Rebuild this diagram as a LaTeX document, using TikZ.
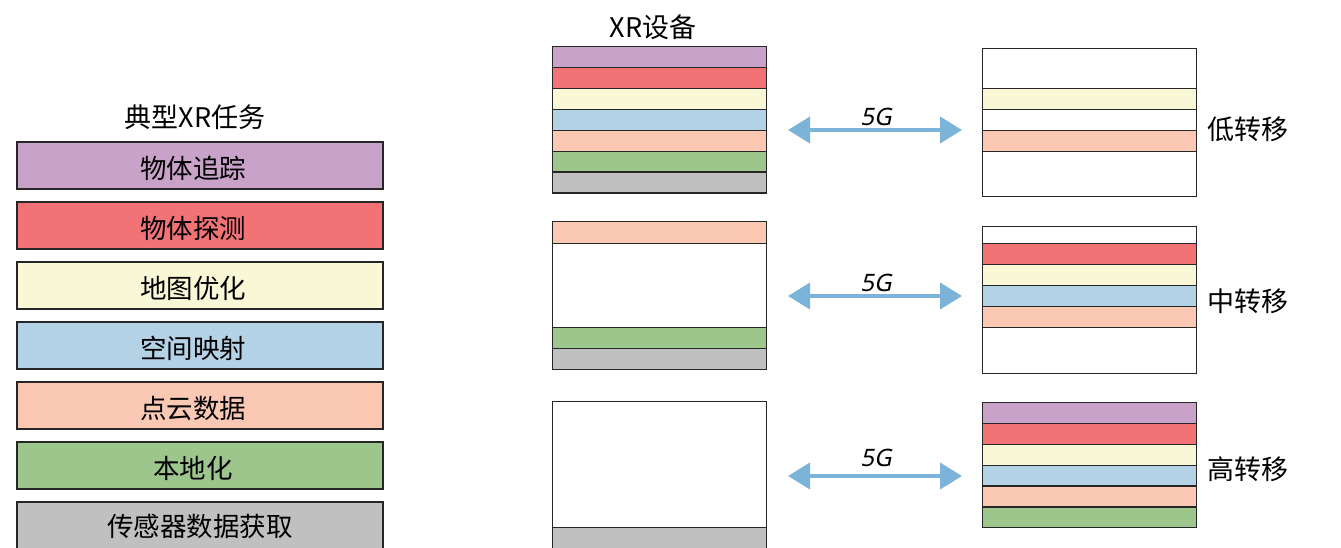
\documentclass[tikz,border=0pt]{standalone}
\usepackage{fontspec}
\setmainfont{Noto Sans CJK SC}
\newfontfamily\latinfont[FakeSlant=0.2]{Noto Sans}
\usetikzlibrary{arrows.meta}

\definecolor{cpurple}{HTML}{C8A2C9}
\definecolor{cred}{HTML}{F27375}
\definecolor{cyellow}{HTML}{F8F8D6}
\definecolor{cblue}{HTML}{B3D2E6}
\definecolor{cpeach}{HTML}{FBC9B3}
\definecolor{cgreen}{HTML}{9DC68C}
\definecolor{cgray}{HTML}{C0C0C1}
\definecolor{carrow}{HTML}{7BB4D8}
\definecolor{cline}{HTML}{262626}

\tikzset{
  task/.style={draw=cline, line width=1.3pt, minimum width=366pt, minimum height=47pt,
    inner sep=0pt, font=\fontsize{26.5}{30}\selectfont},
  tasktext/.style={inner sep=0pt, font=\fontsize{26.5}{30}\selectfont},
  layer/.style={draw=cline, line width=1.3pt, minimum width=214pt, minimum height=#1,
    inner sep=0pt, anchor=north west},
  layer/.default=20.9pt,
  frame/.style={draw=cline, line width=1.3pt, fill=white, minimum width=214pt,
    minimum height=#1, inner sep=0pt, anchor=north west},
  heading/.style={font=\fontsize{27}{30}\selectfont, inner sep=0pt},
  tag/.style={font=\fontsize{27}{30}\selectfont, inner sep=0pt, anchor=west},
  linklabel/.style={font=\latinfont\fontsize{24}{26}\selectfont, inner sep=0pt},
  link/.style={carrow, line width=4pt,
    {Triangle[length=22pt,width=26pt]}-{Triangle[length=22pt,width=26pt]}},
}

\begin{document}
\begin{tikzpicture}[x=1pt,y=-1pt]
\useasboundingbox (0,0) rectangle (1341,547);

% ---- typical XR tasks ----
\node[heading] (tasktitle) at (195,117) {典型XR任务};
\node[task, fill=cpurple] (t1) at (200,165.5) {};
\node[task, fill=cred]    (t2) at (200,225.5) {};
\node[task, fill=cyellow] (t3) at (200,285.5) {};
\node[task, fill=cblue]   (t4) at (200,345.5) {};
\node[task, fill=cpeach]  (t5) at (200,405.5) {};
\node[task, fill=cgreen]  (t6) at (200,465.5) {};
\node[task, fill=cgray]   (t7) at (200,525.5) {};
\node[tasktext] (t1x) at (193,168.5) {物体追踪};
\node[tasktext] (t2x) at (193,228.5) {物体探测};
\node[tasktext] (t3x) at (193,288.5) {地图优化};
\node[tasktext] (t4x) at (193,348.5) {空间映射};
\node[tasktext] (t5x) at (193,408.5) {点云数据};
\node[tasktext] (t6x) at (193,468.5) {本地化};
\node[tasktext] (t7x) at (200,526.5) {传感器数据获取};

% ---- XR device stacks ----
\node[heading] (devtitle) at (653,27) {XR设备};

% low offload: everything on the device
\node[layer, fill=cpurple] (d1a) at (552,46.0)  {};
\node[layer, fill=cred]    (d1b) at (552,66.9)  {};
\node[layer, fill=cyellow] (d1c) at (552,87.8)  {};
\node[layer, fill=cblue]   (d1d) at (552,108.7) {};
\node[layer, fill=cpeach]  (d1e) at (552,129.6) {};
\node[layer, fill=cgreen]  (d1f) at (552,150.5) {};
\node[layer, fill=cgray]   (d1g) at (552,171.4) {};

% medium offload
\node[frame=148pt] (d2) at (552,221) {};
\node[layer=22pt, fill=cpeach] (d2a) at (552,221) {};
\node[layer=21pt, fill=cgreen] (d2b) at (552,327) {};
\node[layer=21pt, fill=cgray]  (d2c) at (552,348) {};

% high offload
\node[frame=126pt] (d3) at (552,401) {};
\node[layer=22pt, fill=cgray] (d3a) at (552,527) {};

% ---- edge / server stacks ----
\node[frame=148pt] (s1) at (982,48) {};
\node[layer=21pt, fill=cyellow] (s1a) at (982,88)  {};
\node[layer=21pt, fill=cpeach]  (s1b) at (982,130) {};

\node[frame=147pt] (s2) at (982,226) {};
\node[layer=21pt, fill=cred]    (s2a) at (982,243) {};
\node[layer=21pt, fill=cyellow] (s2b) at (982,264) {};
\node[layer=21pt, fill=cblue]   (s2c) at (982,285) {};
\node[layer=21pt, fill=cpeach]  (s2d) at (982,306) {};

\node[layer=20.85pt, fill=cpurple] (s3a) at (982,402.0) {};
\node[layer=20.85pt, fill=cred]    (s3b) at (982,422.85) {};
\node[layer=20.85pt, fill=cyellow] (s3c) at (982,443.7) {};
\node[layer=20.85pt, fill=cblue]   (s3d) at (982,464.55) {};
\node[layer=20.85pt, fill=cpeach]  (s3e) at (982,485.4) {};
\node[layer=20.85pt, fill=cgreen]  (s3f) at (982,506.25) {};

\node[tag] (lowtag)  at (1207,129) {低转移};
\node[tag] (midtag)  at (1207,301) {中转移};
\node[tag] (hightag) at (1207,469) {高转移};

% ---- 5G links ----
\coordinate (l1a) at (788,130);  \coordinate (l1b) at (962,130);
\coordinate (l2a) at (788,296);  \coordinate (l2b) at (962,296);
\coordinate (l3a) at (788,476);  \coordinate (l3b) at (962,476);
\draw[link] (l1a) -- (l1b);
\draw[link] (l2a) -- (l2b);
\draw[link] (l3a) -- (l3b);
\node[linklabel] (g1) at (876,117) {5G};
\node[linklabel] (g2) at (876,283) {5G};
\node[linklabel] (g3) at (876,458) {5G};
\end{tikzpicture}
\end{document}
